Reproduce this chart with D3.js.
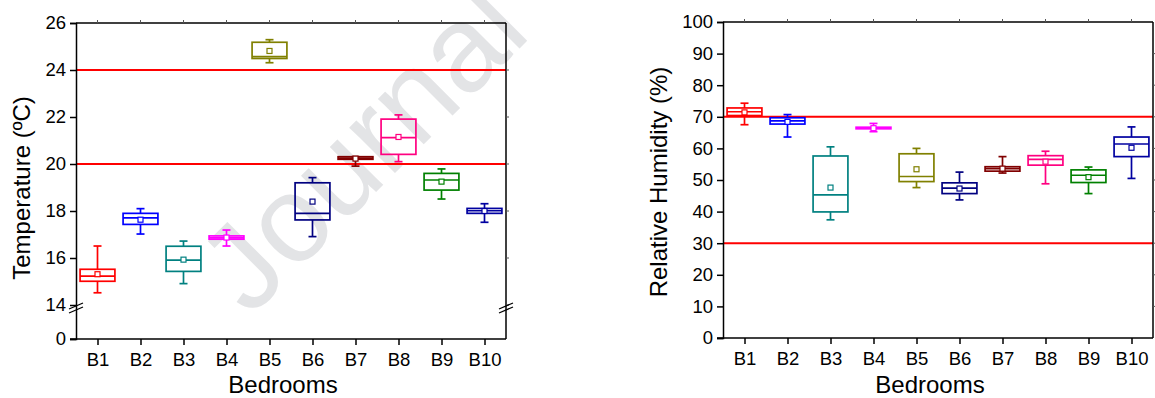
<!DOCTYPE html>
<html>
<head>
<meta charset="utf-8">
<script src="https://cdn.jsdelivr.net/npm/d3@7"></script>
<style>
  html, body { margin: 0; padding: 0; background: #fff; }
  svg { display: block; font-family: "Liberation Sans", Arial, sans-serif; }
</style>
</head>
<body>
<svg id="chart" width="1155" height="398"></svg>
<script>
// Bedroom categories and their box colours
const bedrooms = ["B1", "B2", "B3", "B4", "B5", "B6", "B7", "B8", "B9", "B10"];
const boxColors = ["#ff0000", "#0000ff", "#008080", "#ff00ff", "#808000",
                   "#000080", "#800000", "#ff0080", "#008000", "#0000a0"];

// Temperature (ºC) box statistics per bedroom
const tempLow    = [14.52, 17.02, 14.91, 16.51, 24.31, 16.91, 19.91, 20.10, 18.51, 17.52];
const tempQ1     = [15.01, 17.43, 15.43, 16.80, 24.49, 17.62, 20.20, 20.41, 18.89, 17.90];
const tempMedian = [15.23, 17.71, 15.91, 16.86, 24.57, 17.90, 20.25, 21.12, 19.32, 18.01];
const tempQ3     = [15.52, 17.90, 16.50, 16.94, 25.18, 19.20, 20.31, 21.91, 19.60, 18.11];
const tempHigh   = [16.51, 18.10, 16.72, 17.19, 25.29, 19.42, 20.31, 22.09, 19.79, 18.31];
const tempMean   = [15.31, 17.63, 15.93, 16.87, 24.81, 18.40, 20.23, 21.15, 19.25, 18.00];

// Relative humidity (%) box statistics per bedroom
const rhLow    = [67.5, 63.6, 37.4, 65.3, 47.6, 43.7, 52.2, 48.8, 45.7, 50.5];
const rhQ1     = [70.4, 67.7, 39.9, 66.2, 49.5, 45.7, 52.8, 54.7, 49.2, 57.4];
const rhMedian = [71.6, 68.7, 45.3, 66.4, 51.1, 47.4, 53.6, 56.5, 51.5, 61.4];
const rhQ3     = [72.8, 69.7, 57.6, 66.7, 58.3, 49.1, 54.2, 57.7, 53.2, 63.6];
const rhHigh   = [74.3, 70.7, 60.5, 67.9, 60.0, 52.5, 57.4, 59.1, 54.1, 66.8];
const rhMean   = [71.4, 68.4, 47.6, 66.4, 53.4, 47.3, 53.6, 55.8, 50.9, 60.2];

// Tick values and comfort limits
const tempTicks = [0, 14, 16, 18, 20, 22, 24, 26];
const tempLimits = [20, 24];
const rhTicks = [0, 10, 20, 30, 40, 50, 60, 70, 80, 90, 100];
const rhLimits = [30, 70];

const svg = d3.select("#chart");
const FONT_TICK = 18.5;
const FONT_TITLE = 24;

// Watermark behind the plots
svg.append("text")
  .attr("transform", "translate(250,318) rotate(-45)")
  .attr("font-size", 122)
  .attr("fill", "#e3e4e6")
  .text("Journal");

function buildStats(low, q1, med, q3, high, mean) {
  return bedrooms.map((b, i) => ({
    name: b, color: boxColors[i],
    low: low[i], q1: q1[i], med: med[i], q3: q3[i], high: high[i], mean: mean[i]
  }));
}

function drawPanel(opts) {
  const { left, right, top, bottom, y, ticks, limits, stats, yTitle, titleX, titleY, breakAt } = opts;
  const g = svg.append("g");
  const x = d3.scaleLinear().domain([0.5, 10.5]).range([left, right]);
  const step = x(2) - x(1);
  const boxW = step * 0.81;
  const capW = 8;

  // Comfort limit lines
  g.selectAll("line.limit").data(limits).enter().append("line")
    .attr("x1", left).attr("x2", right)
    .attr("y1", d => y(d)).attr("y2", d => y(d))
    .attr("stroke", "#ff0000").attr("stroke-width", 2);

  // Box plots
  const bx = g.selectAll("g.box").data(stats).enter().append("g")
    .attr("stroke", d => d.color).attr("fill", "none").attr("stroke-width", 1.7);
  const cx = (d, i) => x(i + 1);
  bx.append("line").attr("x1", cx).attr("x2", cx)
    .attr("y1", d => y(d.high)).attr("y2", d => y(d.q3));
  bx.append("line").attr("x1", cx).attr("x2", cx)
    .attr("y1", d => y(d.q1)).attr("y2", d => y(d.low));
  bx.append("line").attr("x1", (d, i) => cx(d, i) - capW / 2).attr("x2", (d, i) => cx(d, i) + capW / 2)
    .attr("y1", d => y(d.high)).attr("y2", d => y(d.high));
  bx.append("line").attr("x1", (d, i) => cx(d, i) - capW / 2).attr("x2", (d, i) => cx(d, i) + capW / 2)
    .attr("y1", d => y(d.low)).attr("y2", d => y(d.low));
  bx.append("rect")
    .attr("x", (d, i) => cx(d, i) - boxW / 2).attr("width", boxW)
    .attr("y", d => y(d.q3)).attr("height", d => Math.max(0.5, y(d.q1) - y(d.q3)));
  bx.append("line").attr("x1", (d, i) => cx(d, i) - boxW / 2).attr("x2", (d, i) => cx(d, i) + boxW / 2)
    .attr("y1", d => y(d.med)).attr("y2", d => y(d.med));
  bx.append("rect")
    .attr("x", (d, i) => cx(d, i) - 2.5).attr("y", d => y(d.mean) - 2.5)
    .attr("width", 5).attr("height", 5).attr("stroke-width", 1.2).attr("fill", "#fff");

  // Frame: top and right lines with small ticks
  g.append("line").attr("x1", left).attr("x2", right).attr("y1", top).attr("y2", top)
    .attr("stroke", "#000").attr("stroke-width", 1.5);
  g.append("line").attr("x1", right).attr("x2", right).attr("y1", top).attr("y2", bottom)
    .attr("stroke", "#000").attr("stroke-width", 1.5);
  g.selectAll("line.tt").data(bedrooms).enter().append("line")
    .attr("x1", (d, i) => x(i + 1)).attr("x2", (d, i) => x(i + 1))
    .attr("y1", top).attr("y2", top - 3).attr("stroke", "#555").attr("stroke-width", 1);
  g.selectAll("line.rt").data(ticks.filter(t => t !== ticks[0] && t !== ticks[ticks.length - 1])).enter().append("line")
    .attr("x1", right).attr("x2", right + 3)
    .attr("y1", d => y(d)).attr("y2", d => y(d)).attr("stroke", "#555").attr("stroke-width", 1);

  // Left axis
  const yAxis = g.append("g").attr("transform", `translate(${left},0)`)
    .call(d3.axisLeft(y).tickValues(ticks).tickSize(6).tickPadding(4).tickFormat(d3.format("d")));
  yAxis.select(".domain").attr("stroke", "#000").attr("stroke-width", 1.5);
  yAxis.selectAll(".tick line").attr("stroke", "#000").attr("stroke-width", 1.5);
  yAxis.selectAll(".tick text").attr("font-size", FONT_TICK).attr("fill", "#000")
    .attr("font-family", "Liberation Sans, Arial, sans-serif");

  // Bottom axis
  const xAxis = g.append("g").attr("transform", `translate(0,${bottom})`)
    .call(d3.axisBottom(x).tickValues(d3.range(1, 11)).tickSize(6).tickPadding(8)
      .tickFormat(d => bedrooms[d - 1]));
  xAxis.select(".domain").attr("stroke", "#000").attr("stroke-width", 1.5);
  xAxis.selectAll(".tick line").attr("stroke", "#000").attr("stroke-width", 1.5);
  xAxis.selectAll(".tick text").attr("font-size", FONT_TICK).attr("fill", "#000")
    .attr("font-family", "Liberation Sans, Arial, sans-serif");
  // Extend bottom axis left to meet the tick at the origin
  xAxis.select(".domain").attr("d", `M${left - 6},0H${right}`);

  // Axis break marks
  if (breakAt !== undefined) {
    [left, right].forEach(ax => {
      [-2, 2].forEach(off => {
        g.append("line")
          .attr("x1", ax - 7).attr("x2", ax + 7)
          .attr("y1", breakAt + off + 3).attr("y2", breakAt + off - 3)
          .attr("stroke", "#000").attr("stroke-width", 1.3);
      });
    });
  }

  // Titles
  g.append("text")
    .attr("transform", `translate(${titleX},${titleY}) rotate(-90)`)
    .attr("text-anchor", "middle").attr("font-size", FONT_TITLE).attr("fill", "#000")
    .text(yTitle);
  g.append("text")
    .attr("x", (left + right) / 2 - 8).attr("y", 393)
    .attr("text-anchor", "middle").attr("font-size", FONT_TITLE).attr("fill", "#000")
    .text("Bedrooms");
}

// Temperature panel: broken axis, 0 then 14–26
const yTemp = d3.scaleLinear().domain([0, 14, 26]).range([339, 305, 23]);
drawPanel({
  left: 76, right: 506, top: 23, bottom: 339, y: yTemp,
  ticks: tempTicks, limits: tempLimits,
  stats: buildStats(tempLow, tempQ1, tempMedian, tempQ3, tempHigh, tempMean),
  yTitle: "Temperature (ºC)", titleX: 30, titleY: 188, breakAt: 308
});

// Relative humidity panel
const yRh = d3.scaleLinear().domain([0, 100]).range([338, 22]);
drawPanel({
  left: 723, right: 1153, top: 22, bottom: 338, y: yRh,
  ticks: rhTicks, limits: rhLimits,
  stats: buildStats(rhLow, rhQ1, rhMedian, rhQ3, rhHigh, rhMean),
  yTitle: "Relative Humidity (%)", titleX: 667, titleY: 182
});
</script>
</body>
</html>
